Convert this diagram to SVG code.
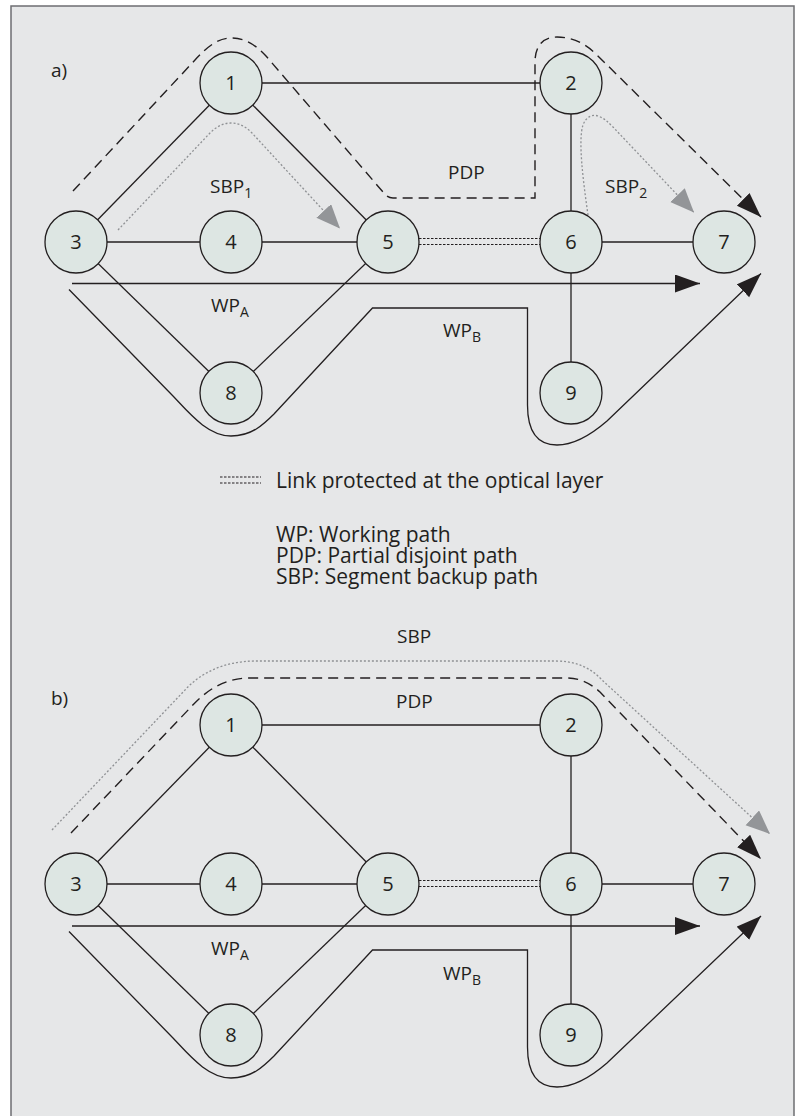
<svg xmlns="http://www.w3.org/2000/svg" width="803" height="1116" viewBox="0 0 803 1116">
<style>
text{font-family:"Open Sans","Liberation Sans",sans-serif;fill:#231f20}
.lbl{font-size:19px}
.num{font-size:20px;text-anchor:middle}
.leg{font-size:21px}
.node circle{fill:#dde6e3;stroke:#231f20;stroke-width:1.3}
.edge{stroke:#231f20;stroke-width:1.3;fill:none}
.opt{stroke:#231f20;stroke-width:1.1;stroke-dasharray:2.5 1.5;fill:none}
.wp{stroke:#231f20;stroke-width:1.3;fill:none}
.pdp{stroke:#231f20;stroke-width:1.4;stroke-dasharray:10 6;fill:none}
.sbp{stroke:#8f9194;stroke-width:1.3;stroke-dasharray:2 2;fill:none}
</style>
<defs>
<marker id="ab" markerUnits="userSpaceOnUse" markerWidth="26" markerHeight="20" refX="25" refY="9" orient="auto"><path d="M0,0 L25,9 L0,18 z" fill="#231f20"/></marker>
<marker id="ag" markerUnits="userSpaceOnUse" markerWidth="26" markerHeight="22" refX="24" refY="10" orient="auto"><path d="M0,0 L24,10 L0,20 z" fill="#939598"/></marker>
</defs>
<rect x="0" y="0" width="803" height="1116" fill="#ffffff"/>
<rect x="11" y="6" width="783" height="1130" fill="#e6e7e8" stroke="#6d6e71" stroke-width="1.5"/>

<g id="connectors">
<!-- top edges -->
<line class="edge" x1="231" y1="83" x2="571" y2="83"/>
<line class="edge" x1="231" y1="83" x2="76" y2="242"/>
<line class="edge" x1="231" y1="83" x2="388" y2="242"/>
<line class="edge" x1="76" y1="242" x2="388" y2="242"/>
<line class="edge" x1="571" y1="242" x2="724" y2="242"/>
<line class="edge" x1="571" y1="83" x2="571" y2="393"/>
<line class="edge" x1="76" y1="242" x2="231" y2="393"/>
<line class="edge" x1="388" y1="242" x2="231" y2="393"/>
<line class="opt" x1="419" y1="238.5" x2="540" y2="238.5"/>
<line class="opt" x1="419" y1="244.5" x2="540" y2="244.5"/>
<!-- top paths -->
<line class="wp" x1="72" y1="283.5" x2="700" y2="283.5" marker-end="url(#ab)"/>
<path class="wp" d="M69 289.5 L173 396 C190 414 208 436 231 436 C252 436 264 424 274 414 L372.5 308 L527.5 308 L527.5 405 C527.5 432 537 445 557 445 C575 445 592 434 607 421 L761 273.5" marker-end="url(#ab)"/>
<path class="pdp" d="M73 191 L195 60 C207 47 218 38 231 38 C244 38 255 44 266 56 L383 192 C386 196 389 198 393 198 L535 198 L535 62 C535 46 543 37 557 37 C572 37 585 43 597 55 L761 217" marker-end="url(#ab)"/>
<path class="sbp" d="M118 230 L210 133 C216 127 223 123 231 123 C240 123 246 127 252 133 L340 228.5" marker-end="url(#ag)"/>
<path class="sbp" d="M588 215 C583 180 578 140 583 125 C586 117 592 114 598 116 C604 118 608 122 613 127 L694 212.5" marker-end="url(#ag)"/>
<!-- bottom edges -->
<line class="edge" x1="231" y1="725" x2="571" y2="725"/>
<line class="edge" x1="231" y1="725" x2="76" y2="884"/>
<line class="edge" x1="231" y1="725" x2="388" y2="884"/>
<line class="edge" x1="76" y1="884" x2="388" y2="884"/>
<line class="edge" x1="571" y1="884" x2="724" y2="884"/>
<line class="edge" x1="571" y1="725" x2="571" y2="1035"/>
<line class="edge" x1="76" y1="884" x2="231" y2="1035"/>
<line class="edge" x1="388" y1="884" x2="231" y2="1035"/>
<line class="opt" x1="419" y1="880.5" x2="540" y2="880.5"/>
<line class="opt" x1="419" y1="886.5" x2="540" y2="886.5"/>
<!-- bottom paths -->
<line class="wp" x1="72" y1="926" x2="700" y2="926" marker-end="url(#ab)"/>
<path class="wp" d="M69 931.5 L173 1038 C190 1056 208 1078 231 1078 C252 1078 264 1066 274 1056 L372.5 950 L527.5 950 L527.5 1047 C527.5 1074 537 1087 557 1087 C575 1087 592 1076 607 1063 L761 916" marker-end="url(#ab)"/>
<path class="pdp" d="M71 833 L190 708 C205 692 222 678 250 678 L566 678 C580 678 590 683 600 692 L761 859" marker-end="url(#ab)"/>
<path class="sbp" d="M52 830 L185 690 C200 673 225 661 255 661 L555 661 C575 661 590 667 602 680 L770 834" marker-end="url(#ag)"/>
</g>

<g id="nodes-a">
<g id="a-n1" class="node"><circle cx="231" cy="83" r="31"/><text class="num" x="231" y="90">1</text></g>
<g id="a-n2" class="node"><circle cx="571" cy="83" r="31"/><text class="num" x="571" y="90">2</text></g>
<g id="a-n3" class="node"><circle cx="76" cy="242" r="31"/><text class="num" x="76" y="249">3</text></g>
<g id="a-n4" class="node"><circle cx="231" cy="242" r="31"/><text class="num" x="231" y="249">4</text></g>
<g id="a-n5" class="node"><circle cx="388" cy="242" r="31"/><text class="num" x="388" y="249">5</text></g>
<g id="a-n6" class="node"><circle cx="571" cy="242" r="31"/><text class="num" x="571" y="249">6</text></g>
<g id="a-n7" class="node"><circle cx="724" cy="242" r="31"/><text class="num" x="724" y="249">7</text></g>
<g id="a-n8" class="node"><circle cx="231" cy="393" r="31"/><text class="num" x="231" y="400">8</text></g>
<g id="a-n9" class="node"><circle cx="571" cy="393" r="31"/><text class="num" x="571" y="400">9</text></g>
</g>
<g id="nodes-b">
<g id="b-n1" class="node"><circle cx="231" cy="725" r="31"/><text class="num" x="231" y="732">1</text></g>
<g id="b-n2" class="node"><circle cx="571" cy="725" r="31"/><text class="num" x="571" y="732">2</text></g>
<g id="b-n3" class="node"><circle cx="76" cy="884" r="31"/><text class="num" x="76" y="891">3</text></g>
<g id="b-n4" class="node"><circle cx="231" cy="884" r="31"/><text class="num" x="231" y="891">4</text></g>
<g id="b-n5" class="node"><circle cx="388" cy="884" r="31"/><text class="num" x="388" y="891">5</text></g>
<g id="b-n6" class="node"><circle cx="571" cy="884" r="31"/><text class="num" x="571" y="891">6</text></g>
<g id="b-n7" class="node"><circle cx="724" cy="884" r="31"/><text class="num" x="724" y="891">7</text></g>
<g id="b-n8" class="node"><circle cx="231" cy="1035" r="31"/><text class="num" x="231" y="1042">8</text></g>
<g id="b-n9" class="node"><circle cx="571" cy="1035" r="31"/><text class="num" x="571" y="1042">9</text></g>
</g>

<g id="labels">
<text class="lbl" x="51" y="77" font-size="20">a)</text>
<text class="lbl" x="210" y="193">SBP<tspan font-size="14" dy="5">1</tspan></text>
<text class="lbl" x="448" y="179">PDP</text>
<text class="lbl" x="605" y="193">SBP<tspan font-size="14" dy="5">2</tspan></text>
<text class="lbl" x="211" y="311.5">WP<tspan font-size="14" dy="5">A</tspan></text>
<text class="lbl" x="443" y="337">WP<tspan font-size="14" dy="5">B</tspan></text>
<text class="lbl" x="51" y="705" font-size="20">b)</text>
<text class="lbl" x="397" y="642.5">SBP</text>
<text class="lbl" x="396" y="708">PDP</text>
<text class="lbl" x="211" y="955">WP<tspan font-size="14" dy="5">A</tspan></text>
<text class="lbl" x="443" y="980">WP<tspan font-size="14" dy="5">B</tspan></text>
</g>

<g id="legend">
<line class="opt" x1="220" y1="477" x2="261" y2="477" stroke-dasharray="1.5 1.5"/>
<line class="opt" x1="220" y1="483" x2="261" y2="483" stroke-dasharray="1.5 1.5"/>
<text class="leg" x="276" y="488">Link protected at the optical layer</text>
<text class="leg" x="276" y="541.5">WP: Working path</text>
<text class="leg" x="276" y="563">PDP: Partial disjoint path</text>
<text class="leg" x="276" y="584">SBP: Segment backup path</text>
</g>
</svg>
